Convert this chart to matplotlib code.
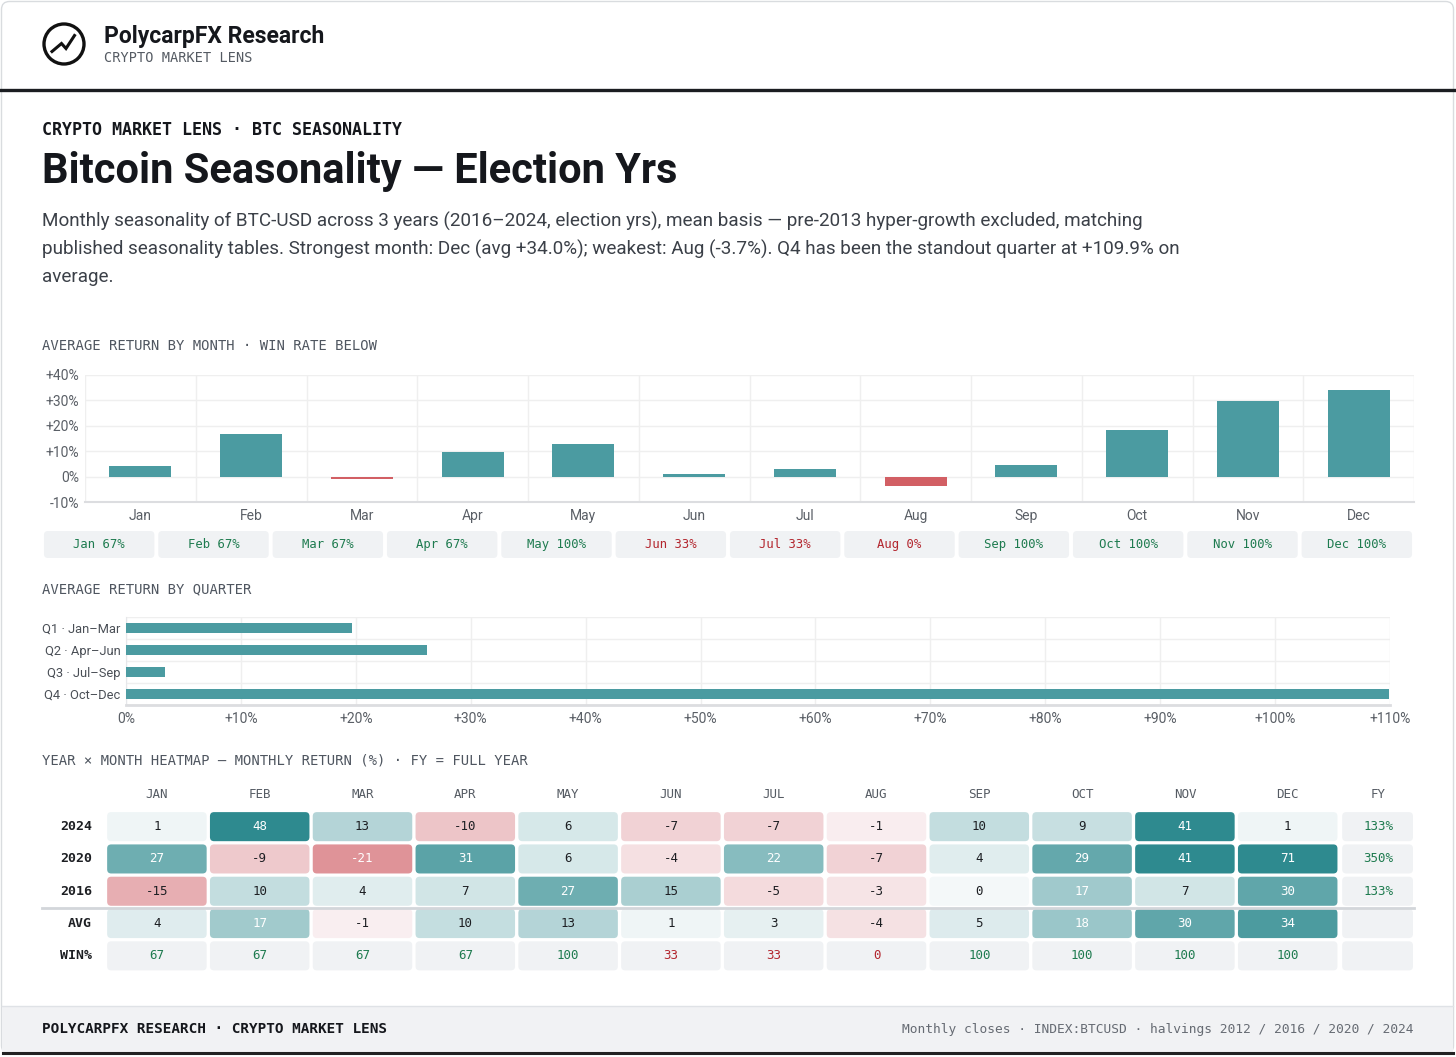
import numpy as np
import matplotlib
matplotlib.use("Agg")
import matplotlib.pyplot as plt
from matplotlib.patches import FancyBboxPatch, Circle, Rectangle

W, H = 1456, 1057

# data
months = ['Jan', 'Feb', 'Mar', 'Apr', 'May', 'Jun', 'Jul', 'Aug', 'Sep', 'Oct', 'Nov', 'Dec']
avg_return = [4.3, 16.8, -0.8, 9.6, 13.0, 1.0, 2.9, -3.7, 4.7, 18.2, 29.8, 34.0]
win_rate = [67, 67, 67, 67, 100, 33, 33, 0, 100, 100, 100, 100]

quarters = ['Q1 · Jan–Mar', 'Q2 · Apr–Jun', 'Q3 · Jul–Sep', 'Q4 · Oct–Dec']
quarter_return = [19.7, 26.2, 3.4, 109.9]

years = ['2024', '2020', '2016']
ret_2024 = [1, 48, 13, -10, 6, -7, -7, -1, 10, 9, 41, 1]
ret_2020 = [27, -9, -21, 31, 6, -4, 22, -7, 4, 29, 41, 71]
ret_2016 = [-15, 10, 4, 7, 27, 15, -5, -3, 0, 17, 7, 30]
full_year = [133, 350, 133]

ytick_vals = [-10, 0, 10, 20, 30, 40]
qtick_vals = list(range(0, 111, 10))

# style
TEAL = '#4b9ba1'
RED = '#d25f64'
GREEN_TXT = '#1e7b4f'
RED_TXT = '#b3262e'
PILL = '#f0f2f4'
INK = '#15171c'
SANS = ['Roboto', 'DejaVu Sans']
MONO = ['DejaVu Sans Mono']


def pct(v):
    return '0%' if v == 0 else f'{v:+d}%'


def heat(v):
    t = min(abs(v) / 40.0, 1.0)
    if v >= 0:
        base, top = (244, 248, 249), (46, 138, 143)
    else:
        base, top = (250, 242, 243), (198, 61, 69)
    return tuple((b + (tp - b) * t) / 255 for b, tp in zip(base, top))


fig = plt.figure(figsize=(W / 100, H / 100), dpi=100)
ov = fig.add_axes([0, 0, 1, 1], zorder=0)
ov.set_xlim(0, W)
ov.set_ylim(H, 0)
ov.axis('off')


def axes_px(x0, y0, x1, y1):
    a = fig.add_axes([x0 / W, 1 - y1 / H, (x1 - x0) / W, (y1 - y0) / H], zorder=2)
    a.patch.set_alpha(0)
    return a


def rbox(ax, x, y, w, h, fc, r, aspect):
    ax.add_patch(FancyBboxPatch((x, y), w, h, boxstyle=f'round,pad=0,rounding_size={r}',
                                mutation_aspect=aspect, fc=fc, ec='none', zorder=1))


# card + footer
ov.add_patch(FancyBboxPatch((1.5, 1.5), W - 4, H - 5, boxstyle='round,pad=0,rounding_size=8',
                            fc='white', ec='#d9dcdf', lw=1))
ov.add_patch(Rectangle((2, 1006), W - 5, 46, fc='#f1f2f4', ec='none'))
ov.plot([2, W - 3], [1006, 1006], color='#dfe2e6', lw=1)
ov.plot([3, W - 3], [1053, 1053], color='#222222', lw=2.2)

# header
ov.add_patch(Circle((64, 44), 20, fill=False, lw=2.4, ec='#111111'))
ov.plot([52, 61.5, 66, 74.5], [51.5, 43.5, 48.5, 35.5], color='#111111', lw=2.2,
        solid_joinstyle='miter')
ov.text(104, 36, 'PolycarpFX Research', fontsize=16.5, fontweight='bold', family=SANS,
        color=INK, va='center')
ov.text(104, 58, 'CRYPTO MARKET LENS', fontsize=9.8, family=MONO, color='#555b63', va='center')
ov.plot([0, W], [90, 90], color='#1b1d21', lw=2.4)

# title block
ov.text(42, 130, 'CRYPTO MARKET LENS · BTC SEASONALITY', fontsize=12, fontweight='bold',
        family=MONO, color=INK, va='center')
ov.text(42, 172, 'Bitcoin Seasonality — Election Yrs', fontsize=30, fontweight='bold',
        family=SANS, color=INK, va='center')
sub = ['Monthly seasonality of BTC-USD across 3 years (2016–2024, election yrs), mean basis — pre-2013 hyper-growth excluded, matching',
       'published seasonality tables. Strongest month: Dec (avg +34.0%); weakest: Aug (-3.7%). Q4 has been the standout quarter at +109.9% on',
       'average.']
for i, line in enumerate(sub):
    ov.text(42, 221 + 28 * i, line, fontsize=13.6, family=SANS, color='#3b4048', va='center')

for y, lab in [(346, 'AVERAGE RETURN BY MONTH · WIN RATE BELOW'),
               (589, 'AVERAGE RETURN BY QUARTER'),
               (761, 'YEAR × MONTH HEATMAP — MONTHLY RETURN (%) · FY = FULL YEAR')]:
    ov.text(42, y, lab, fontsize=10, family=MONO, color='#4f5660', va='center')

# monthly bars
ax1 = axes_px(85, 375, 1414, 502)
x = np.arange(len(months))
ax1.bar(x, avg_return, width=0.56, color=[TEAL if v >= 0 else RED for v in avg_return], zorder=3)
ax1.set_xlim(-0.5, 11.5)
ax1.set_ylim(-10, 40)
ax1.set_xticks(x)
ax1.set_xticklabels(months)
ax1.set_xticks(np.arange(-0.5, 12, 1), minor=True)
ax1.set_yticks(ytick_vals)
ax1.set_yticklabels([pct(v) for v in ytick_vals])
ax1.grid(True, which='minor', axis='x', color='#efefef', lw=1)
ax1.grid(True, which='major', axis='y', color='#efefef', lw=1)
ax1.tick_params(which='both', length=0)
ax1.tick_params(axis='y', pad=4, labelsize=10, labelcolor='#5a5f66')
ax1.tick_params(axis='x', pad=5, labelsize=10, labelcolor='#5a5f66')
for s in ['top', 'right', 'left']:
    ax1.spines[s].set_visible(False)
ax1.spines['bottom'].set_color('#dcdde0')
ax1.spines['bottom'].set_linewidth(1.5)
for t in ax1.get_xticklabels() + ax1.get_yticklabels():
    t.set_family(SANS)

# win rate pills
axp = axes_px(42, 531, 1414, 558)
axp.set_xlim(0, 12)
axp.set_ylim(0, 1)
axp.axis('off')
asp_p = (1372 / 12) / 27
for i, (m, w) in enumerate(zip(months, win_rate)):
    rbox(axp, i + 0.017, 0, 0.966, 1, PILL, 0.035, asp_p)
    axp.text(i + 0.5, 0.5, f'{m} {w}%', ha='center', va='center', fontsize=8.8, family=MONO,
             color=GREEN_TXT if w >= 50 else RED_TXT)

# quarterly bars
axq = axes_px(126, 617, 1390, 705)
yq = np.arange(len(quarters))
axq.barh(yq, quarter_return, height=0.48, color=TEAL, zorder=3)
axq.set_xlim(0, 110)
axq.set_ylim(3.5, -0.5)
axq.set_xticks(qtick_vals)
axq.set_xticklabels([pct(v) for v in qtick_vals])
axq.set_yticks(yq)
axq.set_yticklabels(quarters)
axq.set_yticks(np.arange(-0.5, 3.6, 1), minor=True)
axq.grid(True, which='major', axis='x', color='#efefef', lw=1)
axq.grid(True, which='minor', axis='y', color='#efefef', lw=1)
axq.tick_params(which='both', length=0)
axq.tick_params(axis='y', pad=4, labelsize=9.3, labelcolor='#4a4f56')
axq.tick_params(axis='x', pad=5, labelsize=10, labelcolor='#5a5f66')
for s in ['top', 'right']:
    axq.spines[s].set_visible(False)
axq.spines['bottom'].set_color('#dcdde0')
axq.spines['bottom'].set_linewidth(2)
axq.spines['left'].set_color('#e6e7ea')
for t in axq.get_xticklabels() + axq.get_yticklabels():
    t.set_family(SANS)

# heatmap
xmax = (1414 - 105.5) / 102.8
axh = axes_px(105.5, 810.5, 1414, 972)
axh.set_xlim(0, xmax)
axh.set_ylim(5, 0)
axh.axis('off')
asp_h = 102.8 / 32.3
rows = [ret_2024, ret_2020, ret_2016, avg_return]
for r, vals in enumerate(rows):
    for c, v in enumerate(vals):
        rbox(axh, c + 0.016, r + 0.05, 0.968, 0.9, heat(v), 0.04, asp_h)
        axh.text(c + 0.5, r + 0.5, f'{v:.0f}', ha='center', va='center', fontsize=9,
                 family=MONO, color='white' if abs(v) / 40 > 0.4 else '#1d1f23', zorder=4)
for c, w in enumerate(win_rate):
    rbox(axh, c + 0.016, 4.05, 0.968, 0.9, PILL, 0.04, asp_h)
    axh.text(c + 0.5, 4.5, f'{w}', ha='center', va='center', fontsize=9, family=MONO,
             color=GREEN_TXT if w >= 50 else RED_TXT, zorder=4)
for r in range(5):
    rbox(axh, 12.03, r + 0.05, xmax - 12.04, 0.9, PILL, 0.04, asp_h)
for r, fy in enumerate(full_year):
    axh.text((12.03 + xmax) / 2, r + 0.5, f'{fy}%', ha='center', va='center', fontsize=9,
             family=MONO, color=GREEN_TXT, zorder=4)
for c, m in enumerate(months + ['FY']):
    xc = c + 0.5 if c < 12 else (12.03 + xmax) / 2
    axh.text(xc, -0.48, m.upper(), ha='center', va='center', fontsize=9, family=MONO,
             color='#555b63', clip_on=False)
for r, lab in enumerate(years + ['AVG', 'WIN%']):
    axh.text(-0.13, r + 0.5, lab, ha='right', va='center', fontsize=9.5, family=MONO,
             fontweight='bold', color='#1d1f23', clip_on=False)
axh.plot([-0.62, xmax], [3.03, 3.03], color='#d3d6da', lw=2, clip_on=False, zorder=5)

# footer text
ov.text(42, 1029, 'POLYCARPFX RESEARCH · CRYPTO MARKET LENS', fontsize=10.4, fontweight='bold',
        family=MONO, color=INK, va='center')
ov.text(1414, 1029, 'Monthly closes · INDEX:BTCUSD · halvings 2012 / 2016 / 2020 / 2024',
        fontsize=9.3, family=MONO, color='#666b73', va='center', ha='right')

fig.savefig('out.png', dpi=100)
